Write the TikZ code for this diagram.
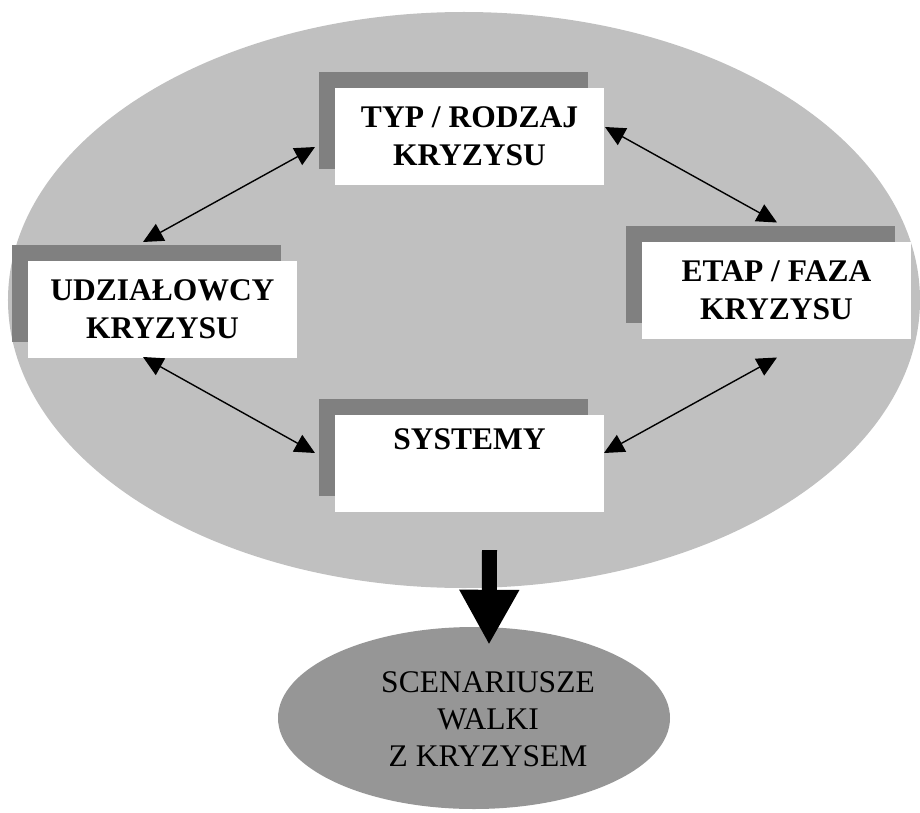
\documentclass[tikz,border=0pt]{standalone}
\usepackage{fontspec}
\setmainfont{Liberation Serif}
\usetikzlibrary{shapes.geometric,arrows.meta,calc}

\definecolor{outerfill}{HTML}{C0C0C0}
\definecolor{innerfill}{HTML}{969696}
\definecolor{shadowfill}{HTML}{808080}

\tikzset{
  plate/.style={rectangle, fill=white, inner sep=0pt, outer sep=0pt,
    minimum width=269bp, minimum height=97bp, align=center,
    font=\fontsize{31.5bp}{38bp}\selectfont\bfseries},
  plateshadow/.style={rectangle, fill=shadowfill, inner sep=0pt, outer sep=0pt,
    minimum width=269bp, minimum height=97bp},
  link/.style={line width=1.4bp,
    {Triangle[length=20bp,width=19bp]}-{Triangle[length=20bp,width=19bp]}},
  flow/.style={line width=15bp, -{Triangle[length=55bp,width=56bp]}}
}

\begin{document}
\begin{tikzpicture}[x=1bp, y=-1bp]
\useasboundingbox (0,0) rectangle (920,813);

% the two ellipses
\node[ellipse, fill=outerfill, inner sep=0pt, minimum width=912bp, minimum height=576bp] (big) at (464,300) {};
\node[ellipse, fill=innerfill, inner sep=0pt, minimum width=392bp, minimum height=182bp] (scen) at (474,718) {};
\node[align=center, inner sep=0pt, font=\fontsize{31.5bp}{37bp}\selectfont] (scentext) at (488,719)
  {SCENARIUSZE\\WALKI\\Z KRYZYSEM};

% shadows behind the plates
\node[plateshadow] (typS) at (453.5,120.5) {};
\node[plateshadow] (udzS) at (146.5,293.5) {};
\node[plateshadow] (etapS) at (760.5,274) {};
\node[plateshadow] (sysS) at (453.5,447.5) {};

% plates
\node[plate] (typ) at (469.5,136.5) {TYP / RODZAJ\\KRYZYSU};
\node[plate] (udz) at (162.5,309.5) {UDZIAŁOWCY\\KRYZYSU};
\node[plate] (etap) at (776.5,290) {ETAP / FAZA\\KRYZYSU};
\node[plate] (sys) at (469.5,463.5) {SYSTEMY\\\strut};

% links between the plates
\draw[link] ($(udzS.north)+(-3.5,-3)$) -- ($(typS.west)+(-4,26.5)$);
\draw[link] ($(typ.east)+(1,-9.5)$) -- ($(etapS.north)+(16.5,-3)$);
\draw[link] ($(udz.south)+(-19.5,-1)$) -- ($(sysS.west)+(-4,5.5)$);
\draw[link] ($(etap.south)+(0.5,19)$) -- ($(sys.east)+(0,-10.5)$);

% outcome arrow
\draw[flow] ($(big.south)+(25.5,-38)$) -- ($(scen.north)+(15,18)$);
\end{tikzpicture}
\end{document}
